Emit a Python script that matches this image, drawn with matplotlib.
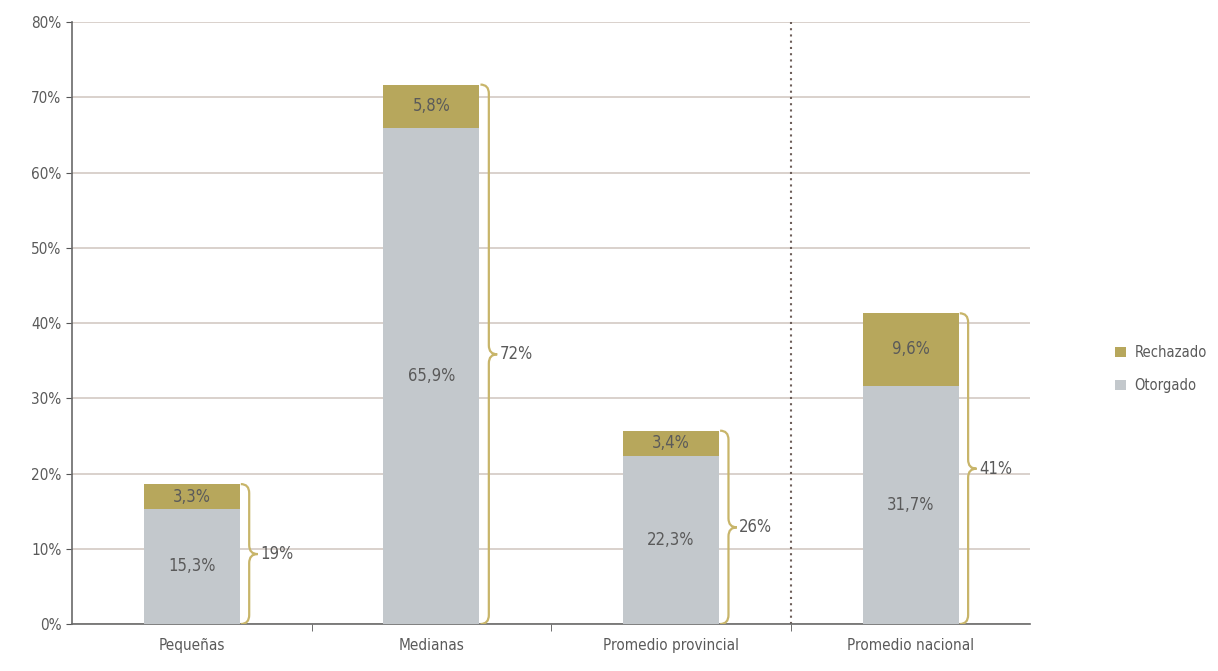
import numpy as np
import matplotlib.pyplot as plt
from matplotlib.path import Path
from matplotlib.patches import PathPatch

plt.rcParams['font.family'] = ['DejaVu Sans']
plt.rcParams['font.stretch'] = 'condensed'

categorias = ['Pequeñas', 'Medianas', 'Promedio provincial', 'Promedio nacional']
otorgado = [15.3, 65.9, 22.3, 31.7]
rechazado = [3.3, 5.8, 3.4, 9.6]
etiq_otorgado = ['15,3%', '65,9%', '22,3%', '31,7%']
etiq_rechazado = ['3,3%', '5,8%', '3,4%', '9,6%']
etiq_total = ['19%', '72%', '26%', '41%']
yticks = [0, 10, 20, 30, 40, 50, 60, 70, 80]

c_otor = '#c3c8cc'
c_rech = '#b7a75c'
c_brace = '#c8b56a'
c_text = '#5a5a5a'

fig = plt.figure(figsize=(12.18, 6.71), dpi=100)
ax = fig.add_axes([0.059, 0.070, 0.787, 0.897])

x = np.arange(len(categorias))
w = 0.4
ax.bar(x, otorgado, w, color=c_otor, label='Otorgado', zorder=3)
ax.bar(x, rechazado, w, bottom=otorgado, color=c_rech, label='Rechazado', zorder=3)

for i in range(len(x)):
    o, r = otorgado[i], rechazado[i]
    ax.text(x[i], o / 2, etiq_otorgado[i], ha='center', va='center', fontsize=12, color=c_text, zorder=4)
    ax.text(x[i], o + r / 2, etiq_rechazado[i], ha='center', va='center', fontsize=12, color=c_text, zorder=4)
    # llave desde 0 hasta el total
    top = o + r
    mid = top / 2
    x0 = x[i] + w / 2 + 0.005
    dw = 0.035
    rr = 1.2
    verts = [(x0, top), (x0 + dw, top), (x0 + dw, top - rr),
             (x0 + dw, mid + rr), (x0 + dw, mid), (x0 + 2 * dw, mid),
             (x0 + dw, mid), (x0 + dw, mid - rr),
             (x0 + dw, rr), (x0 + dw, 0), (x0, 0)]
    codes = [Path.MOVETO, Path.CURVE3, Path.CURVE3,
             Path.LINETO, Path.CURVE3, Path.CURVE3,
             Path.CURVE3, Path.CURVE3,
             Path.LINETO, Path.CURVE3, Path.CURVE3]
    ax.add_patch(PathPatch(Path(verts, codes), fill=False, edgecolor=c_brace, lw=1.6, zorder=4))
    ax.text(x0 + 2 * dw + 0.01, mid, etiq_total[i], ha='left', va='center', fontsize=12, color=c_text, zorder=4)

ax.axvline(2.5, ymin=0, ymax=1, color='#6e5f5a', lw=1.5, ls=(0, (1, 2)), zorder=2)

ax.set_xlim(-0.5, 3.5)
ax.set_ylim(0, 80)
ax.set_yticks(yticks)
ax.set_yticklabels([f'{v}%' for v in yticks])
ax.set_xticks(x)
ax.set_xticklabels(categorias)
ax.set_xticks([0.5, 1.5, 2.5], minor=True)
ax.tick_params(axis='x', which='major', length=0, pad=10, labelsize=11, labelcolor=c_text)
ax.tick_params(axis='x', which='minor', length=5, color='#555555', direction='out')
ax.tick_params(axis='y', length=4, color='#555555', labelsize=11, labelcolor=c_text)

ax.grid(axis='y', color='#d3cac4', lw=1.2, zorder=0)
for s in ['top', 'right']:
    ax.spines[s].set_visible(False)
for s in ['left', 'bottom']:
    ax.spines[s].set_color('#6a6a6a')
    ax.spines[s].set_linewidth(1.2)

h, l = ax.get_legend_handles_labels()
fig.legend(h[::-1], l[::-1], loc='center left', bbox_to_anchor=(0.905, 0.45),
           frameon=False, fontsize=10.5, handlelength=0.7, handleheight=0.7,
           handletextpad=0.6, labelspacing=1.2, labelcolor=c_text)

plt.savefig('out.png')
